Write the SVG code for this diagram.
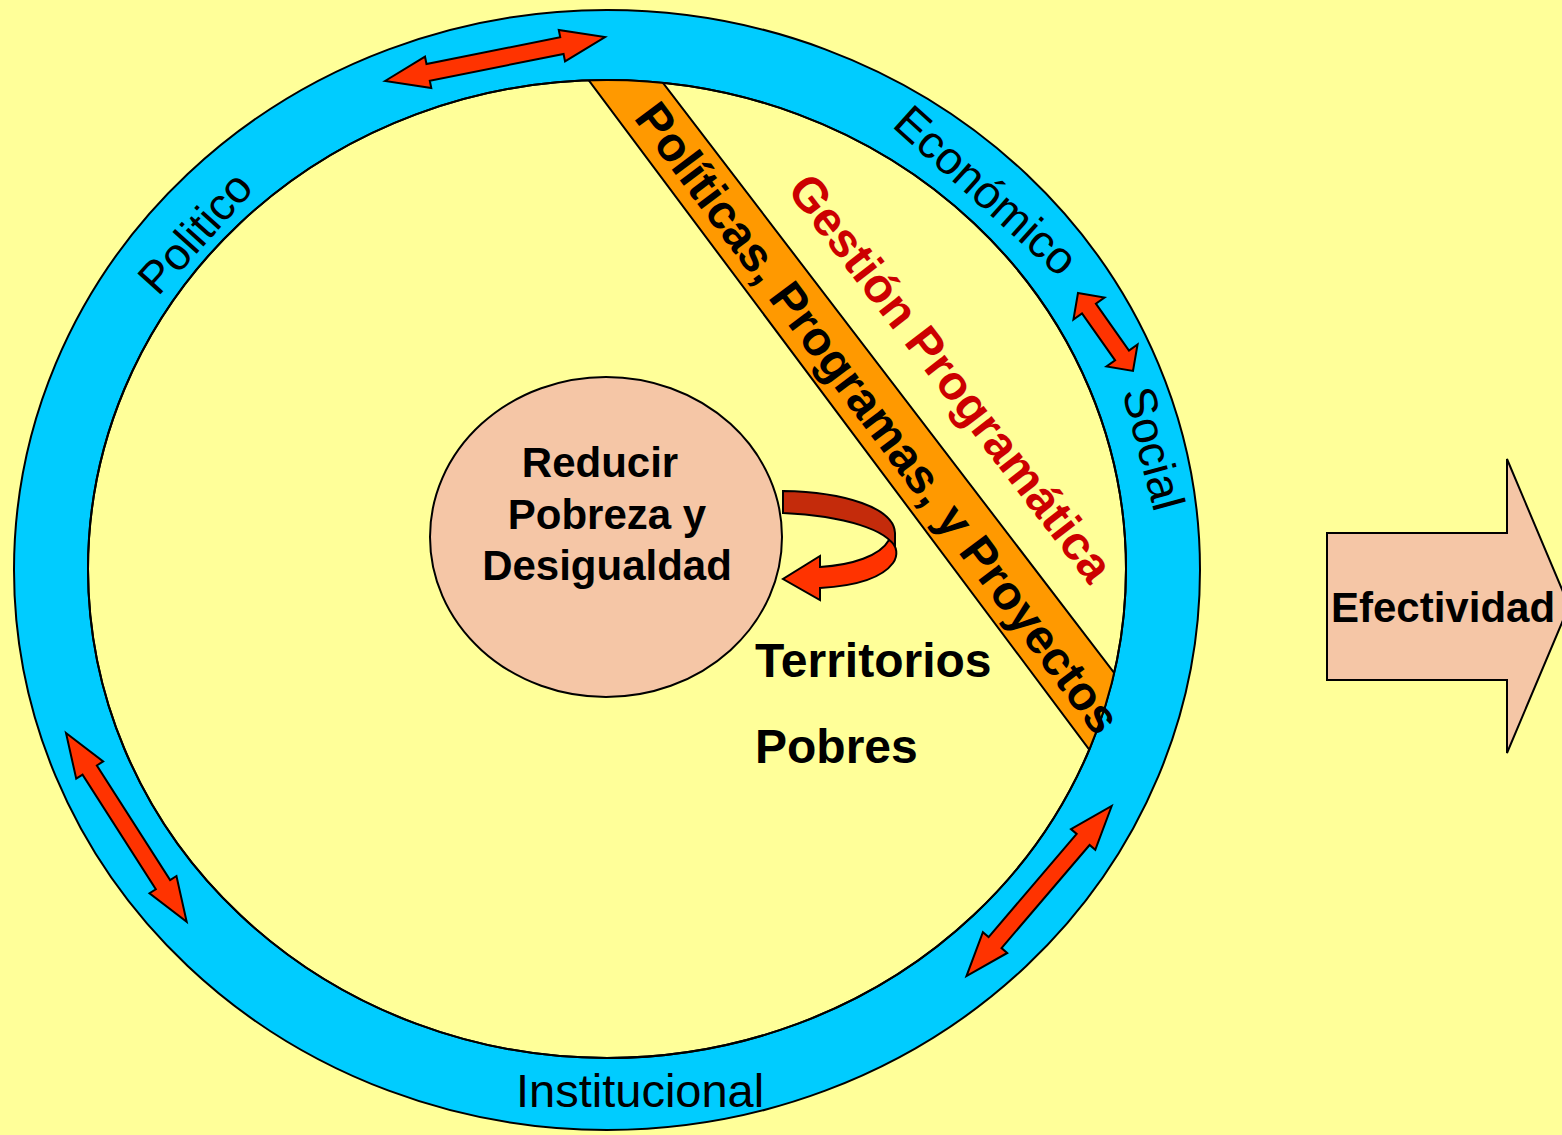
<svg xmlns="http://www.w3.org/2000/svg" width="1562" height="1135" viewBox="0 0 1562 1135">
<style>
.ln{stroke:#000;stroke-width:2;stroke-linejoin:miter}
.dbl{fill:#FF3300;stroke:#000;stroke-width:2}
.ring{font-family:"Liberation Sans",Arial,sans-serif;font-size:46px;fill:#000}
.bold{font-family:"Liberation Sans",Arial,sans-serif;font-weight:bold;fill:#000}
</style>
<defs>
<clipPath id="innerClip"><ellipse cx="607" cy="569" rx="519" ry="489"/></clipPath>
</defs>
<rect x="0" y="0" width="1562" height="1135" fill="#FFFF99"/>
<g id="ring">
<ellipse cx="607" cy="570" rx="593" ry="560" fill="#00CCFF" class="ln"/>
<ellipse cx="607" cy="569" rx="519" ry="489" fill="#FFFF99" class="ln"/>
</g>
<g id="band">
<polygon points="558.6,40 1126.9,800 1211.4,800 630.2,40" fill="#FF9900" class="ln" clip-path="url(#innerClip)"/>
<ellipse cx="607" cy="569" rx="519" ry="489" fill="none" class="ln"/>
</g>
<g id="connectors">
<polygon class="dbl" transform="translate(385,81) rotate(-11.3)" points="0,0 44,-16 44,-8.5 180.4,-8.5 180.4,-16 224.4,0 180.4,16 180.4,8.5 44,8.5 44,16"/>
<polygon class="dbl" transform="translate(1078,293) rotate(54.8)" points="0,0 19,-19 19,-8.5 76.4,-8.5 76.4,-19 95.4,0 76.4,19 76.4,8.5 19,8.5 19,19"/>
<polygon class="dbl" transform="translate(66,733) rotate(57.4)" points="0,0 44,-16 44,-8.5 180,-8.5 180,-16 224,0 180,16 180,8.5 44,8.5 44,16"/>
<polygon class="dbl" transform="translate(1111.7,806) rotate(130.5)" points="0,0 44,-16 44,-8.5 179.6,-8.5 179.6,-16 223.6,0 179.6,16 179.6,8.5 44,8.5 44,16"/>
<g id="cycle-arrow">
<path d="M783,491 C845,492 894,508 895,533 L895,548 C888,530 845,516 783,513 Z" fill="#C42B0B" class="ln"/>
<path d="M889,540 C898,546 898,556 893,563 C882,578 855,586 820,588 L820,600 L783,579 L820,556 L820,567 C852,565 880,556 889,540 Z" fill="#FF3300" class="ln"/>
</g>
</g>
<g id="ring-labels">
<text class="ring" transform="translate(158,297) rotate(-48)" style="font-size:45px">Politico</text>
<text class="ring" transform="translate(891,126) rotate(42)">Económico</text>
<text class="ring" transform="translate(1122,392) rotate(75)">Social</text>
<text class="ring" x="516" y="1107" style="font-size:47px">Institucional</text>
</g>
<g id="band-labels">
<text class="bold" font-size="48" transform="translate(633,118) rotate(53.2)">Políticas, Programas, y Proyectos</text>
<text class="bold" font-size="48" transform="translate(786,190) rotate(52.5)" style="fill:#CC0000">Gestión Programática</text>
</g>
<g id="goal">
<ellipse cx="606" cy="537" rx="176" ry="160" fill="#F5C6A6" class="ln"/>
<text class="bold" font-size="42" text-anchor="middle"><tspan x="600" y="477">Reducir</tspan><tspan x="607" y="529">Pobreza y</tspan><tspan x="607" y="580">Desigualdad</tspan></text>
</g>
<g id="territorios">
<text class="bold" font-size="48" x="755" y="677">Territorios</text>
<text class="bold" font-size="48" x="755" y="763">Pobres</text>
</g>
<g id="efectividad">
<polygon points="1327,533 1507,533 1507,459 1569,606 1507,753 1507,680 1327,680" fill="#F5C6A6" class="ln"/>
<text class="bold" font-size="42" x="1331" y="622">Efectividad</text>
</g>
</svg>
